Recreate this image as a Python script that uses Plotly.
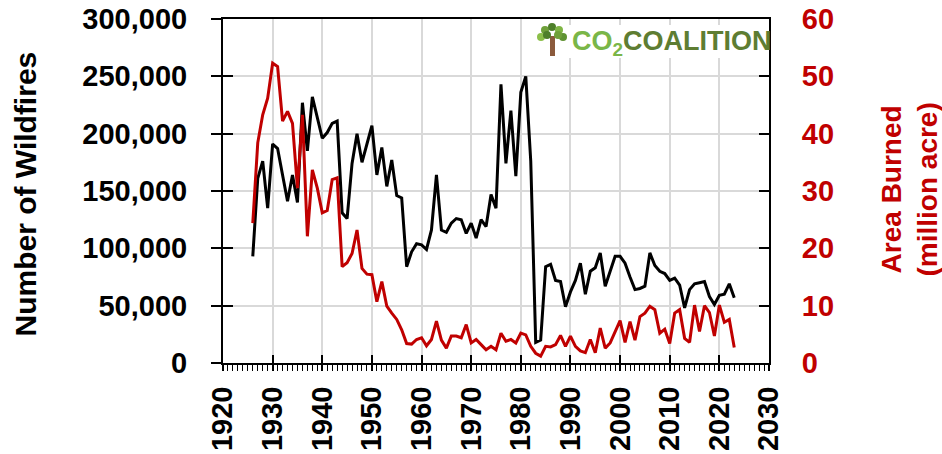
import plotly.graph_objects as go

years = list(range(1926, 2024))

# number of wildfires (thousands)
fires_k = [93, 161, 176, 135, 191, 187, 164, 141, 164, 140,
           227, 185, 232, 214, 196, 201, 209, 211, 131, 126,
           174, 200, 175, 191, 207, 164, 188, 154, 177, 146,
           144, 84, 97, 104, 103, 99, 116, 164, 116, 114,
           122, 126, 125, 113, 122, 109, 125, 119, 147, 135,
           243, 174, 220, 163, 236, 250, 176, 18, 20, 84,
           86, 72, 71, 49, 62, 72, 87, 60, 80, 83,
           96, 67, 81, 93, 93, 87, 75, 64, 65, 67,
           96, 85, 80, 78, 72, 74, 68, 48, 64, 69,
           70, 71, 58, 51, 59, 60, 69, 57]
fires = [v * 1000 for v in fires_k]

# area burned (million acres)
area = [24.4, 38.4, 43.3, 46.2, 52.3, 51.7, 42.2, 43.9, 41.8, 30.5,
        43.3, 22.1, 33.7, 30.5, 26.2, 26.6, 32.0, 32.3, 16.8, 17.5,
        19.1, 23.2, 16.5, 15.5, 15.4, 10.7, 14.2, 9.9, 8.7, 7.6,
        5.8, 3.4, 3.3, 4.1, 4.4, 3.0, 4.1, 7.3, 4.0, 2.6,
        4.7, 4.7, 4.4, 6.7, 3.5, 4.1, 3.2, 2.3, 2.9, 2.3,
        5.2, 3.8, 4.1, 3.5, 5.2, 4.9, 2.9, 1.7, 1.2, 2.9,
        2.8, 3.2, 4.8, 2.9, 4.7, 2.9, 2.1, 1.8, 4.1, 1.8,
        6.1, 2.6, 3.5, 5.6, 7.4, 3.6, 7.2, 4.0, 8.1, 8.7,
        9.9, 9.3, 5.2, 5.9, 3.4, 8.7, 9.3, 4.3, 3.6, 10.1,
        5.5, 10.0, 8.8, 4.7, 10.1, 7.1, 7.6, 2.7]

decades = list(range(1920, 2031, 10))

RED = '#C00000'
FONT = 'Liberation Sans, Arial, sans-serif'

# plot area in pixels: x 223..769, y 19..363
L, R, T, B = 223, 769, 19, 363
def px(x):
    return (x - L) / (R - L)
def py(y):
    return (B - y) / (B - T)

fig = go.Figure()
fig.add_trace(go.Scatter(x=years, y=fires, mode='lines',
                         line=dict(color='black', width=3),
                         hoverinfo='skip', showlegend=False))
fig.add_trace(go.Scatter(x=years, y=area, mode='lines', yaxis='y2',
                         line=dict(color=RED, width=3),
                         hoverinfo='skip', showlegend=False))
# helper trace so the overlay axes (crossing tick marks) get drawn
fig.add_trace(go.Scatter(x=years, y=fires, mode='lines', xaxis='x3', yaxis='y3',
                         line=dict(width=0), hoverinfo='skip', showlegend=False))

tickfont = dict(family=FONT, size=29, color='black', weight='bold')

fig.update_layout(
    width=942, height=454,
    margin=dict(l=L, r=942 - R, t=T, b=454 - B),
    plot_bgcolor='white', paper_bgcolor='white',
    font=dict(family=FONT),
    xaxis=dict(range=[1920, 2030], tickvals=decades, tickangle=-90,
               ticks='outside', ticklen=6, tickwidth=1.5, tickcolor='black',
               minor=dict(dtick=1, tick0=1920, ticks='outside', ticklen=6,
                          tickwidth=1.2, tickcolor='black', showgrid=False),
               showgrid=True, gridcolor='#D9D9D9', gridwidth=1.5,
               showline=True, linecolor='black', linewidth=2, mirror=True,
               tickfont=tickfont, ticklabelstandoff=4, zeroline=False,
               automargin=False),
    xaxis3=dict(range=[1920, 2030], overlaying='x', anchor='y3',
                tickvals=decades, ticks='inside', ticklen=8, tickwidth=1.5,
                tickcolor='black', showticklabels=False, showgrid=False,
                showline=False, zeroline=False, automargin=False),
    yaxis=dict(range=[0, 300000], dtick=50000, tickformat=',',
               ticks='outside', ticklen=10, tickwidth=1.5, tickcolor='black',
               showgrid=True, gridcolor='#D9D9D9', gridwidth=1.5,
               showline=True, linecolor='black', linewidth=2, mirror=True,
               tickfont=tickfont, ticklabelstandoff=18, zeroline=False,
               automargin=False),
    yaxis3=dict(range=[0, 300000], dtick=50000, overlaying='y', anchor='x3',
                side='left', ticks='inside', ticklen=10, tickwidth=1.5,
                tickcolor='black', showticklabels=False, showgrid=False,
                showline=False, zeroline=False, automargin=False),
    yaxis2=dict(range=[0, 60], dtick=10, overlaying='y', side='right',
                ticks='inside', ticklen=10, tickwidth=1.5, tickcolor='black',
                showgrid=False, showline=True, linecolor='black', linewidth=2,
                tickfont=dict(family=FONT, size=29, color=RED, weight='bold'),
                ticklabelstandoff=25, zeroline=False, automargin=False),
)

# axis titles
fig.add_annotation(text='Number of Wildfires', xref='paper', yref='paper',
                   x=px(6), y=py(194), textangle=-90, showarrow=False,
                   font=dict(family=FONT, size=30, color='black', weight='bold'))
fig.add_annotation(text='Area Burned<br>(million acre)', xref='paper', yref='paper',
                   x=px(944), y=py(190), textangle=-90, showarrow=False,
                   font=dict(family=FONT, size=28, color=RED, weight='bold'))

# CO2 Coalition logo
fig.add_shape(type='rect', xref='paper', yref='paper', layer='above',
              x0=px(533), x1=px(768), y0=py(25), y1=py(58),
              fillcolor='white', line=dict(width=0))
fig.add_shape(type='rect', xref='paper', yref='paper', layer='above',
              x0=px(550), x1=px(555), y0=py(36), y1=py(56),
              fillcolor='#8B5A3C', line=dict(width=0))
for cx, cy, c in [(545, 30, '#6FA03A'), (552, 27, '#4E7F2A'), (559, 30, '#7FB544'),
                  (541, 37, '#8CBF4A'), (563, 37, '#5F9232'), (547, 35, '#4E7F2A'),
                  (558, 35, '#6FA03A')]:
    fig.add_shape(type='circle', xref='paper', yref='paper', layer='above',
                  x0=px(cx - 4), x1=px(cx + 4), y0=py(cy + 4), y1=py(cy - 4),
                  fillcolor=c, line=dict(width=0))
fig.add_annotation(text="<span style='color:#7AB648'>CO<sub>2</sub></span>"
                        "<span style='color:#5E7D32'>COALITION</span>",
                   xref='paper', yref='paper', x=px(570), y=py(43),
                   xanchor='left', yanchor='middle', showarrow=False,
                   font=dict(family=FONT, size=27, weight='bold'))

# the page's default body margin would shift the figure by 8px
fig.write_html("out.html", config={'displayModeBar': False},
               post_script="document.body.style.margin='0';")
